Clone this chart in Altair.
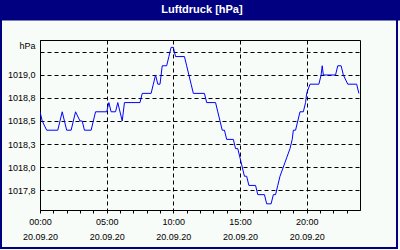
import altair as alt
import pandas as pd

date = "2020-09-20"
times = ["00:00", "00:10", "00:30", "01:20", "01:40", "02:00", "02:20", "02:40", "03:00", "03:10",
         "03:20", "03:50", "04:00", "04:10", "05:00", "05:10", "05:20", "05:40", "05:50", "06:10",
         "06:20", "07:30", "07:40", "08:20", "08:30", "08:40", "08:50", "09:00", "09:10", "09:30",
         "09:40", "09:50", "10:00", "10:10", "10:50", "11:00", "11:10", "11:20", "11:30", "12:20",
         "12:30", "13:10", "13:20", "13:30", "13:40", "13:50", "14:00", "14:30", "14:40", "14:50",
         "15:00", "15:10", "15:20", "15:30", "15:40", "16:10", "16:20", "16:50", "17:00", "17:20",
         "17:30", "17:40", "17:50", "18:00", "18:15", "18:30", "18:45", "18:55", "19:00", "19:10",
         "19:20", "19:30", "19:45", "19:55", "20:00", "20:15", "20:55", "21:05", "21:10", "21:15",
         "22:10", "22:20", "22:35", "22:45", "23:05", "23:45", "23:55"]
values = [1018.6, 1018.5, 1018.4, 1018.4, 1018.6, 1018.4, 1018.4, 1018.6, 1018.5, 1018.5,
          1018.4, 1018.4, 1018.5, 1018.6, 1018.6, 1018.7, 1018.6, 1018.6, 1018.7, 1018.5,
          1018.7, 1018.7, 1018.8, 1018.8, 1018.9, 1019.0, 1018.9, 1018.9, 1019.1, 1019.1,
          1019.2, 1019.3, 1019.3, 1019.2, 1019.2, 1019.1, 1019.0, 1018.9, 1018.8, 1018.8,
          1018.7, 1018.7, 1018.6, 1018.5, 1018.4, 1018.4, 1018.3, 1018.3, 1018.2, 1018.2,
          1018.1, 1018.0, 1017.9, 1017.9, 1017.8, 1017.8, 1017.7, 1017.7, 1017.6, 1017.6,
          1017.7, 1017.7, 1017.8, 1017.9, 1018.0, 1018.1, 1018.2, 1018.3, 1018.4, 1018.4,
          1018.5, 1018.6, 1018.6, 1018.7, 1018.8, 1018.9, 1018.9, 1019.0, 1019.1, 1019.0,
          1019.0, 1019.1, 1019.1, 1019.0, 1018.9, 1018.9, 1018.8]

y_ticks = [1017.75, 1018.0, 1018.25, 1018.5, 1018.75, 1019.0, 1019.25]
y_domain = [1017.533, 1019.38]
tick_hours = list(range(0, 24))
major_every = 5

title_text = "Luftdruck [hPa]"
unit_text = "hPa"

navy = "#000080"
bg = "#F8FCF8"
font = "Liberation Sans"

df = pd.DataFrame({"t": [f"{date}T{t}" for t in times], "p": values})

def dt(h):
    return alt.DateTime(year=2020, month=9, date=20, hours=h)

x_domain = [dt(0), alt.DateTime(year=2020, month=9, date=21, hours=0)]

line = alt.Chart(df).mark_line(color="#0000FF", strokeWidth=1, clip=True).encode(
    x=alt.X("t:T", scale=alt.Scale(domain=x_domain, nice=False),
            axis=alt.Axis(values=[dt(h) for h in tick_hours], title=None,
                          labelExpr="hours(datum.value) % 5 == 0 ? [timeFormat(datum.value, '%H:%M'), timeFormat(datum.value, '%d.%m.%y')] : ''",
                          labelOverlap=False, labelFlush=False,
                          grid=True,
                          gridOpacity={"condition": {"test": "hours(datum.value) % 5 == 0", "value": 1}, "value": 0},
                          gridColor="black", gridDash=[4, 3], gridWidth=1,
                          tickSize=3, tickColor="black", domainColor="black",
                          labelPadding=4, labelBaseline="top", labelLineHeight=15,
                          labelFont=font, labelFontSize=9, labelColor="black")),
    y=alt.Y("p:Q", scale=alt.Scale(domain=y_domain, nice=False, zero=False),
            axis=alt.Axis(values=y_ticks, title=unit_text, titleAngle=0, titleAlign="right",
                          titleBaseline="middle", titleX=-5, titleY=5, titleFont=font,
                          titleFontSize=9, titleFontWeight="normal", titleColor="black",
                          labelExpr="datum.value > 1019.1 ? '' : replace(format(datum.value, '.1f'), '.', ',')",
                          grid=True, gridColor="black", gridDash=[4, 3], gridWidth=1,
                          ticks=False, labelPadding=5, domainColor="black",
                          labelFont=font, labelFontSize=9, labelColor="black")),
)

bar = alt.Chart(alt.Data(values=[{}])).mark_rect(color=navy).encode(
    x=alt.value(-40), x2=alt.value(360), y=alt.value(-40), y2=alt.value(-19.5))

border = alt.Chart(alt.Data(values=[{}])).mark_rect(filled=False, stroke=navy, strokeWidth=2).encode(
    x=alt.value(-39), x2=alt.value(357), y=alt.value(-39), y2=alt.value(208))

title = alt.Chart(alt.Data(values=[{}])).mark_text(
    color="white", font=font, fontSize=11, fontWeight="bold", align="center", baseline="middle"
).encode(x=alt.value(162), y=alt.value(-30), text=alt.value(title_text))

chart = alt.layer(bar, border, title, line).properties(
    width=320, height=170,
    padding={"left": 40, "top": 40, "right": 40, "bottom": 40},
    autosize="none",
).configure(background=bg).configure_view(stroke="black", strokeWidth=1)

chart.save("out.html", embed_options={"renderer": "svg", "actions": False})
